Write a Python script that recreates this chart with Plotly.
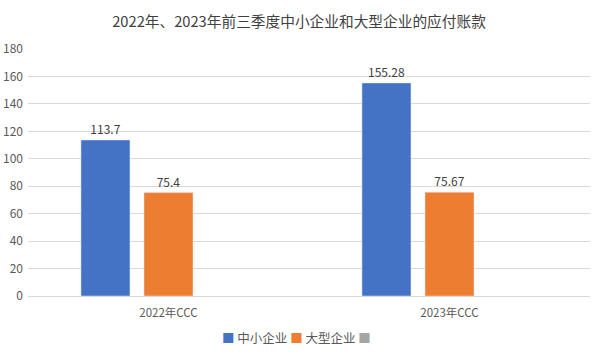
import plotly.graph_objects as go

categories = ["2022年CCC", "2023年CCC"]
sme_values = [113.7, 155.28]
large_values = [75.4, 75.67]
third_values = [None, None]
sme_labels = ["113.7", "155.28"]
large_labels = ["75.4", "75.67"]
y_ticks = [0, 20, 40, 60, 80, 100, 120, 140, 160, 180]
series_names = ["中小企业", "大型企业", ""]
series_colors = ["#4472C4", "#ED7D31", "#A5A5A5"]

font_family = "Noto Sans CJK SC, Noto Sans, sans-serif"

fig = go.Figure()
fig.add_trace(go.Bar(x=categories, y=sme_values, name=series_names[0], marker_color=series_colors[0],
                     text=sme_labels, textposition="outside", cliponaxis=False,
                     textfont=dict(color="#404040", size=12)))
fig.add_trace(go.Bar(x=categories, y=large_values, name=series_names[1], marker_color=series_colors[1],
                     text=large_labels, textposition="outside", cliponaxis=False,
                     textfont=dict(color="#404040", size=12)))
fig.add_trace(go.Bar(x=categories, y=third_values, name=series_names[2], marker_color=series_colors[2]))

legend_text = " ".join(
    f"<span style='color:{c}'>■</span> {n}" if n else f"<span style='color:{c}'>■</span>"
    for n, c in zip(series_names, series_colors)
)

H = 356
T, B = 49, 60
plot_h = H - T - B

fig.update_layout(
    width=598, height=H,
    margin=dict(l=28, r=8, t=T, b=B),
    paper_bgcolor="white", plot_bgcolor="white",
    font=dict(family=font_family, color="#595959", size=11.5),
    showlegend=False,
    title=dict(text="2022年、2023年前三季度中小企业和大型企业的应付账款",
               x=0.5, xanchor="center", y=1 - 22 / H, yanchor="middle",
               font=dict(size=14.7, color="#404040")),
    barmode="group", bargap=0.327, bargroupgap=0.222,
    xaxis=dict(showline=True, linecolor="#D9D9D9", tickfont=dict(size=11.5),
               automargin=False, ticklabelstandoff=6),
    yaxis=dict(range=[0, 180], tickvals=y_ticks, showgrid=True, gridcolor="#D9D9D9",
               zeroline=False, ticks="", tickfont=dict(size=12), automargin=False,
               ticklabelstandoff=4),
    annotations=[dict(text=legend_text, x=(296 - 28) / 562, xref="paper", xanchor="center",
                      y=-(337 - (H - B)) / plot_h, yref="paper", yanchor="middle",
                      showarrow=False, font=dict(size=12.5, color="#595959"))],
)

fig.write_html("out.html", config={"displayModeBar": False},
               post_script="document.body.style.margin='0';document.body.style.padding='0';")
